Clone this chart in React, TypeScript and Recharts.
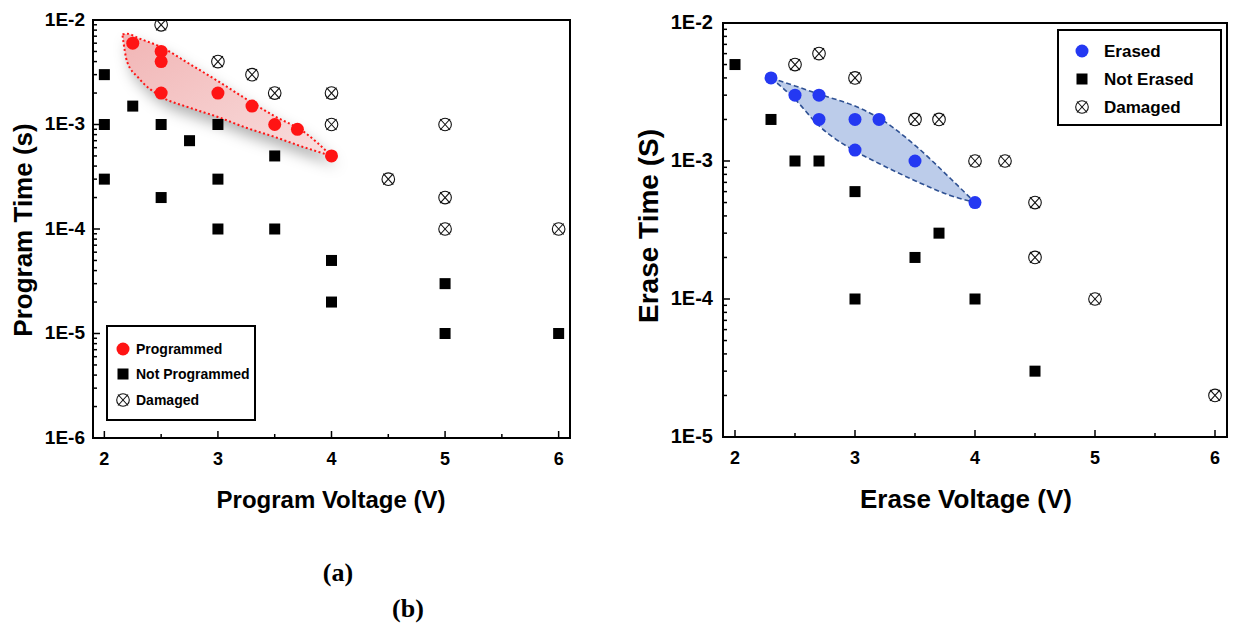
import React from "react";
import { Area, ComposedChart, ReferenceArea, Scatter, XAxis, YAxis } from "recharts";

const FONT = '"Liberation Sans", Arial, Helvetica, sans-serif';

// ---- (a) programming
const programmed = [
  { x: 2.25, y: 6e-3 },
  { x: 2.5, y: 5e-3 },
  { x: 2.5, y: 4e-3 },
  { x: 2.5, y: 2e-3 },
  { x: 3, y: 2e-3 },
  { x: 3.3, y: 1.5e-3 },
  { x: 3.5, y: 1e-3 },
  { x: 3.7, y: 9e-4 },
  { x: 4, y: 5e-4 },
];
const notProgrammed = [
  { x: 2, y: 3e-3 },
  { x: 2, y: 1e-3 },
  { x: 2, y: 3e-4 },
  { x: 2.25, y: 1.5e-3 },
  { x: 2.5, y: 1e-3 },
  { x: 2.5, y: 2e-4 },
  { x: 2.75, y: 7e-4 },
  { x: 3, y: 1e-3 },
  { x: 3, y: 3e-4 },
  { x: 3, y: 1e-4 },
  { x: 3.5, y: 5e-4 },
  { x: 3.5, y: 1e-4 },
  { x: 4, y: 5e-5 },
  { x: 4, y: 2e-5 },
  { x: 5, y: 3e-5 },
  { x: 5, y: 1e-5 },
  { x: 6, y: 1e-5 },
];
const progDamaged = [
  { x: 2.5, y: 9e-3 },
  { x: 3, y: 4e-3 },
  { x: 3.3, y: 3e-3 },
  { x: 3.5, y: 2e-3 },
  { x: 4, y: 2e-3 },
  { x: 4, y: 1e-3 },
  { x: 4.5, y: 3e-4 },
  { x: 5, y: 1e-3 },
  { x: 5, y: 2e-4 },
  { x: 5, y: 1e-4 },
  { x: 6, y: 1e-4 },
];
// outline of the "programmed" window: [lower, upper]
const progBand = [
  { x: 2.16, range: [7.1e-3, 7.3e-3] },
  { x: 2.2, range: [4.0e-3, 7.4e-3] },
  { x: 2.3, range: [2.8e-3, 6.7e-3] },
  { x: 2.5, range: [1.85e-3, 5.5e-3] },
  { x: 2.75, range: [1.45e-3, 3.8e-3] },
  { x: 3, range: [1.18e-3, 2.6e-3] },
  { x: 3.25, range: [9.3e-4, 1.75e-3] },
  { x: 3.5, range: [7.6e-4, 1.2e-3] },
  { x: 3.75, range: [6.1e-4, 8.6e-4] },
  { x: 4, range: [5e-4, 5e-4] },
];

// ---- (b) erasing
const erased = [
  { x: 2.3, y: 4e-3 },
  { x: 2.5, y: 3e-3 },
  { x: 2.7, y: 3e-3 },
  { x: 2.7, y: 2e-3 },
  { x: 3, y: 2e-3 },
  { x: 3, y: 1.2e-3 },
  { x: 3.2, y: 2e-3 },
  { x: 3.5, y: 1e-3 },
  { x: 4, y: 5e-4 },
];
const notErased = [
  { x: 2, y: 5e-3 },
  { x: 2.3, y: 2e-3 },
  { x: 2.5, y: 1e-3 },
  { x: 2.7, y: 1e-3 },
  { x: 3, y: 6e-4 },
  { x: 3, y: 1e-4 },
  { x: 3.5, y: 2e-4 },
  { x: 3.7, y: 3e-4 },
  { x: 4, y: 1e-4 },
  { x: 4.5, y: 3e-5 },
];
const eraseDamaged = [
  { x: 2.5, y: 5e-3 },
  { x: 2.7, y: 6e-3 },
  { x: 3, y: 4e-3 },
  { x: 3.5, y: 2e-3 },
  { x: 3.7, y: 2e-3 },
  { x: 4, y: 1e-3 },
  { x: 4.25, y: 1e-3 },
  { x: 4.5, y: 5e-4 },
  { x: 4.5, y: 2e-4 },
  { x: 5, y: 1e-4 },
  { x: 6, y: 2e-5 },
];
const eraseBand = [
  { x: 2.3, range: [4e-3, 4e-3] },
  { x: 2.5, range: [2.8e-3, 3.5e-3] },
  { x: 2.7, range: [1.8e-3, 3.05e-3] },
  { x: 3, range: [1.18e-3, 2.5e-3] },
  { x: 3.2, range: [9.6e-4, 2.05e-3] },
  { x: 3.5, range: [7.2e-4, 1.3e-3] },
  { x: 3.8, range: [5.6e-4, 7.4e-4] },
  { x: 4, range: [5e-4, 5e-4] },
];

// ---- axes
const xTicks = [2, 2.5, 3, 3.5, 4, 4.5, 5, 5.5, 6];
const leftDecades = [1e-6, 1e-5, 1e-4, 1e-3, 1e-2];
const leftDecadeLabels = ["1E-6", "1E-5", "1E-4", "1E-3", "1E-2"];
const rightDecades = [1e-5, 1e-4, 1e-3, 1e-2];
const rightDecadeLabels = ["1E-5", "1E-4", "1E-3", "1E-2"];
const minorSteps = [2, 3, 4, 5, 6, 7, 8, 9];

const withMinor = (decades: number[]) => {
  const out: number[] = [];
  decades.forEach((d, i) => {
    out.push(d);
    if (i < decades.length - 1) minorSteps.forEach((m) => out.push(d * m));
  });
  return out;
};

const RED = "#ff1414";
const BLUE = "#2438f2";

const RedDot = (p: any) => <circle cx={p.cx} cy={p.cy} r={6.5} fill={RED} />;
const BlueDot = (p: any) => <circle cx={p.cx} cy={p.cy} r={6.5} fill={BLUE} />;
const Square = (p: any) => <rect x={p.cx - 5.5} y={p.cy - 5.5} width={11} height={11} fill="#000" />;
const Crossed = (p: any) => (
  <g stroke="#111" strokeWidth={1.1} fill="none">
    <circle cx={p.cx} cy={p.cy} r={6.3} />
    <line x1={p.cx - 5} y1={p.cy - 5.5} x2={p.cx + 5} y2={p.cy + 5.5} />
    <line x1={p.cx + 5} y1={p.cy - 5.5} x2={p.cx - 5} y2={p.cy + 5.5} />
  </g>
);

const makeYTick = (decades: number[], labels: string[], fontSize: number, gap: number) => (props: any) => {
  const { x, y, payload } = props;
  const i = decades.indexOf(payload.value);
  return (
    <g>
      <line x1={x} x2={x + (i >= 0 ? 7 : 4)} y1={y} y2={y} stroke="#000" strokeWidth={1.5} />
      {i >= 0 && (
        <text x={x - gap} y={y + fontSize * 0.3} textAnchor="end" fontSize={fontSize} fontWeight="bold" fontFamily={FONT} fill="#000">
          {labels[i]}
        </text>
      )}
    </g>
  );
};

const XTick = (props: any) => {
  const { x, y, payload } = props;
  const major = Number.isInteger(payload.value);
  return (
    <g>
      <line x1={x} x2={x} y1={y} y2={y - (major ? 7 : 4)} stroke="#000" strokeWidth={1.5} />
      {major && (
        <text x={x} y={y + 27} textAnchor="middle" fontSize={18} fontWeight="bold" fontFamily={FONT} fill="#000">
          {payload.value}
        </text>
      )}
    </g>
  );
};

type PanelProps = {
  left: number;
  yAxisWidth: number;
  plotWidth: number;
  top: number;
  right: number;
  xAxisHeight: number;
  yDecades: number[];
  yLabels: string[];
  yFont: number;
  yGap: number;
  children: React.ReactNode;
};

function Panel({ left, yAxisWidth, plotWidth, top, right, xAxisHeight, yDecades, yLabels, yFont, yGap, children }: PanelProps) {
  const yDomain = [yDecades[0], yDecades[yDecades.length - 1]];
  return (
    <div style={{ position: "absolute", left, top: 0 }}>
      <ComposedChart width={yAxisWidth + plotWidth + right} height={540} margin={{ top, right, bottom: 0, left: 0 }}>
        <XAxis
          type="number"
          dataKey="x"
          domain={[1.9, 6.1]}
          allowDataOverflow
          ticks={xTicks}
          interval={0}
          tick={XTick}
          tickLine={false}
          tickSize={0}
          tickMargin={0}
          height={xAxisHeight}
          axisLine={{ stroke: "#000", strokeWidth: 2 }}
        />
        <YAxis
          type="number"
          scale="log"
          domain={yDomain}
          allowDataOverflow
          ticks={withMinor(yDecades)}
          interval={0}
          tick={makeYTick(yDecades, yLabels, yFont, yGap)}
          tickLine={false}
          tickSize={0}
          tickMargin={0}
          width={yAxisWidth}
          axisLine={{ stroke: "#000", strokeWidth: 2 }}
        />
        <ReferenceArea x1={1.9} x2={6.1} y1={yDomain[0]} y2={yDomain[1]} fill="none" stroke="#000" strokeWidth={2} />
        {children}
      </ComposedChart>
    </div>
  );
}

const titleStyle = (size: number): React.CSSProperties => ({
  position: "absolute",
  fontFamily: FONT,
  fontWeight: "bold",
  fontSize: size,
  whiteSpace: "nowrap",
  color: "#000",
});

function LegendBox({ style, font, rows, markerX, textX, rowYs }: any) {
  return (
    <div style={{ position: "absolute", border: "2px solid #000", boxSizing: "border-box", background: "#fff", ...style }}>
      {rows.map((r: any, i: number) => (
        <React.Fragment key={r.label}>
          <svg width={18} height={18} style={{ position: "absolute", left: markerX - 9, top: rowYs[i] - 9 }}>
            {r.shape({ cx: 9, cy: 9 })}
          </svg>
          <div style={{ ...titleStyle(font), left: textX, top: rowYs[i], transform: "translateY(-50%)", lineHeight: 1 }}>{r.label}</div>
        </React.Fragment>
      ))}
    </div>
  );
}

export default function App() {
  return (
    <div style={{ position: "absolute", left: 0, top: 0, width: 1233, height: 625, background: "#fff", overflow: "hidden" }}>
      <style>{`.prog-env { filter: drop-shadow(5px 9px 7px rgba(0,0,0,0.3)); }`}</style>

      <Panel left={0} yAxisWidth={93} plotWidth={477} top={20} right={30} xAxisHeight={102} yDecades={leftDecades} yLabels={leftDecadeLabels} yFont={19} yGap={8}>
        <defs>
          <linearGradient id="progFill" x1="0" y1="0" x2="1" y2="1">
            <stop offset="0%" stopColor="#f1b5b5" />
            <stop offset="100%" stopColor="#f9dede" />
          </linearGradient>
        </defs>
        <Area
          className="prog-env"
          data={progBand}
          dataKey="range"
          type="monotone"
          fill="url(#progFill)"
          fillOpacity={1}
          stroke={RED}
          strokeWidth={2}
          strokeDasharray="2 2.5"
          isAnimationActive={false}
          dot={false}
          activeDot={false}
        />
        <Scatter data={notProgrammed} dataKey="y" shape={Square} isAnimationActive={false} />
        <Scatter data={progDamaged} dataKey="y" shape={Crossed} isAnimationActive={false} />
        <Scatter data={programmed} dataKey="y" shape={RedDot} isAnimationActive={false} />
      </Panel>

      <Panel left={620} yAxisWidth={103} plotWidth={504} top={23} right={6} xAxisHeight={103} yDecades={rightDecades} yLabels={rightDecadeLabels} yFont={20} yGap={10}>
        <Area
          data={eraseBand}
          dataKey="range"
          type="monotone"
          fill="#b5c7e8"
          fillOpacity={0.9}
          stroke="#2f5193"
          strokeWidth={1.6}
          strokeDasharray="5 3"
          isAnimationActive={false}
          dot={false}
          activeDot={false}
        />
        <Scatter data={notErased} dataKey="y" shape={Square} isAnimationActive={false} />
        <Scatter data={eraseDamaged} dataKey="y" shape={Crossed} isAnimationActive={false} />
        <Scatter data={erased} dataKey="y" shape={BlueDot} isAnimationActive={false} />
      </Panel>

      {/* axis titles */}
      <div style={{ ...titleStyle(26), left: 23, top: 230, transform: "translate(-50%, -50%) rotate(-90deg)" }}>Program Time (s)</div>
      <div style={{ ...titleStyle(24), left: 331, top: 500, transform: "translate(-50%, -50%)" }}>Program Voltage (V)</div>
      <div style={{ ...titleStyle(28), left: 649, top: 226, transform: "translate(-50%, -50%) rotate(-90deg)" }}>Erase Time (S)</div>
      <div style={{ ...titleStyle(26), left: 966, top: 499, transform: "translate(-50%, -50%)" }}>Erase Voltage (V)</div>

      <LegendBox
        style={{ left: 106, top: 325, width: 150, height: 96 }}
        font={14}
        markerX={15}
        textX={28}
        rowYs={[22, 47, 73]}
        rows={[
          { label: "Programmed", shape: RedDot },
          { label: "Not Programmed", shape: Square },
          { label: "Damaged", shape: Crossed },
        ]}
      />
      <LegendBox
        style={{ left: 1057, top: 29, width: 165, height: 97 }}
        font={17}
        markerX={23}
        textX={45}
        rowYs={[20, 48, 76]}
        rows={[
          { label: "Erased", shape: BlueDot },
          { label: "Not Erased", shape: Square },
          { label: "Damaged", shape: Crossed },
        ]}
      />

      <div style={{ position: "absolute", left: 338, top: 573, transform: "translate(-50%, -50%)", fontFamily: '"Liberation Serif", "Times New Roman", serif', fontWeight: "bold", fontSize: 26 }}>(a)</div>
      <div style={{ position: "absolute", left: 408, top: 609, transform: "translate(-50%, -50%)", fontFamily: '"Liberation Serif", "Times New Roman", serif', fontWeight: "bold", fontSize: 26 }}>(b)</div>
    </div>
  );
}
